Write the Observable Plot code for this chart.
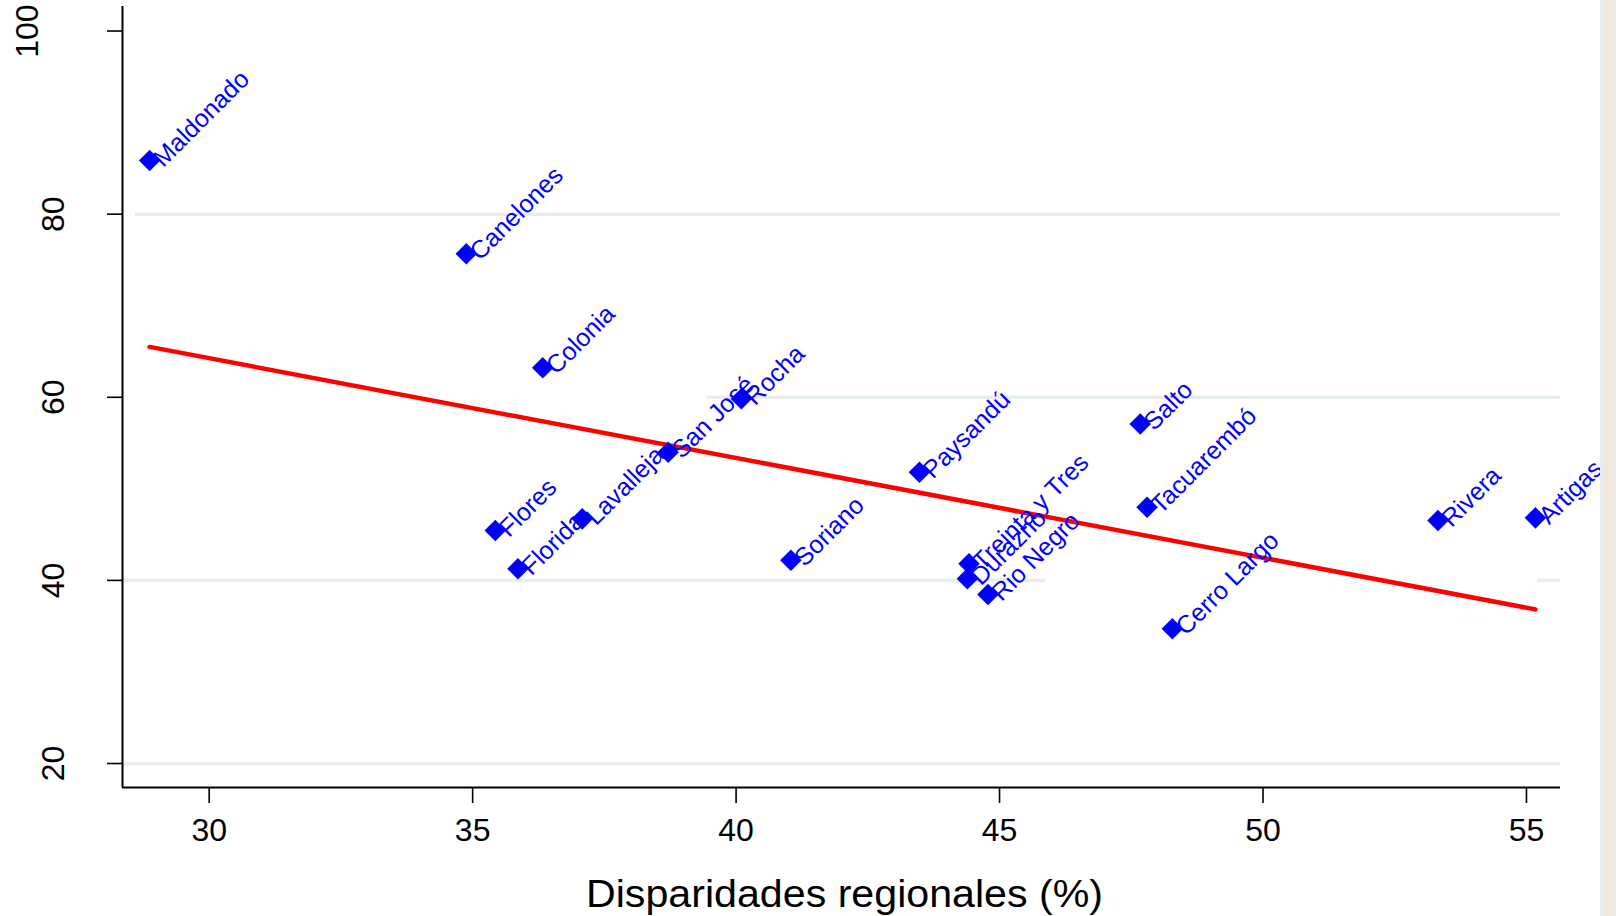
<!DOCTYPE html>
<html><head><meta charset="utf-8">
<script src="https://cdn.jsdelivr.net/npm/d3@7"></script>
<script src="https://cdn.jsdelivr.net/npm/@observablehq/plot@0.6"></script>
<style>
html,body{margin:0;padding:0;background:#fff;overflow:hidden;}
#chart{position:absolute;left:0;top:0;}
#edge{position:absolute;left:1600px;top:0;width:16px;height:916px;background:#efe8df;border-left:4px solid #e6edef;box-sizing:border-box;}
</style></head><body>
<div id="chart"></div><div id="edge"></div>
<script>
// ---- data ----
const departamentos = ["Maldonado","Canelones","Colonia","Rocha","San José","Lavalleja","Flores","Florida","Soriano","Paysandú","Treinta y Tres","Durazno","Rio Negro","Salto","Tacuarembó","Cerro Largo","Rivera","Artigas"];
const disparidades = [28.87,34.88,36.33,40.10,38.71,37.08,35.43,35.86,41.04,43.48,44.42,44.39,44.78,47.67,47.80,48.28,53.32,55.17];
const indicador    = [85.86,75.67,63.22,59.83,54.00,46.72,45.45,41.27,42.21,51.82,41.81,40.17,38.46,57.07,47.99,34.71,46.54,46.83];
const xTicks = [30,35,40,45,50,55];
const yTicks = [20,40,60,80,100];
const xDomain = [28.355, 55.646];
const yDomain = [17.38, 102.68];
// gridline segments (as seen in the reference, partly interrupted)
const gridY    = [20, 40, 40, 60, 80];
const gridFrom = [28.355, 28.355, 55.21, 39.45, 28.60];
const gridTo   = [55.646, 45.87, 55.646, 55.646, 55.646];
const xTitle = "Disparidades regionales (%)";

const data = departamentos.map((d,i)=>({dep:d, x:disparidades[i], y:indicador[i]}));
const grid = gridY.map((y,i)=>({y, x1:gridFrom[i], x2:gridTo[i]}));

const plot = Plot.plot({
  width:1616, height:916,
  marginLeft:122, marginRight:56, marginTop:6, marginBottom:129,
  style:{fontFamily:"'Liberation Sans', Arial, sans-serif", background:"transparent", color:"#000"},
  x:{domain:xDomain},
  y:{domain:yDomain},
  marks:[
    Plot.ruleY(grid,{y:"y",x1:"x1",x2:"x2",stroke:"#e6eef0",strokeWidth:3.5}),
    Plot.ruleX([xDomain[0]],{stroke:"#000",strokeWidth:2}),
    Plot.ruleY([yDomain[0]],{stroke:"#000",strokeWidth:2}),
    Plot.axisX(xTicks,{tickSize:16,tickPadding:15,fontSize:32,strokeWidth:1.6,label:null}),
    Plot.axisY(yTicks,{tickSize:15,tickFormat:()=>"",strokeWidth:1.6,label:null}),
    Plot.text(yTicks.filter(t=>t<100),{y:d=>d,text:d=>String(d),frameAnchor:"left",dx:-59,rotate:-90,textAnchor:"middle",lineAnchor:"bottom",fontSize:32,fill:"#000"}),
    Plot.text(yTicks.filter(t=>t>=100),{y:d=>d,text:d=>String(d),frameAnchor:"left",dx:-85,rotate:-90,textAnchor:"middle",lineAnchor:"bottom",fontSize:32,fill:"#000"}),
    Plot.linearRegressionY(data,{x:"x",y:"y",stroke:"#ff0000",strokeWidth:4.5,ci:0}),
    Plot.text(data,{x:"x",y:"y",text:"dep",rotate:-45,textAnchor:"start",lineAnchor:"middle",dx:8,dy:2,fontSize:25,fill:"#0000ff"}),
    Plot.dot(data,{x:"x",y:"y",symbol:"diamond2",r:9.7,fill:"#0000ff",stroke:"none"}),
    Plot.text([xTitle],{text:d=>d,frameAnchor:"bottom",dx:3,dy:119,lineAnchor:"bottom",fontSize:38,fill:"#000",className:"xtitle"})
  ]
});
d3.select(plot).selectAll(".xtitle text").attr("textLength",517).attr("lengthAdjust","spacingAndGlyphs");
document.getElementById("chart").appendChild(plot);
</script>
</body></html>
